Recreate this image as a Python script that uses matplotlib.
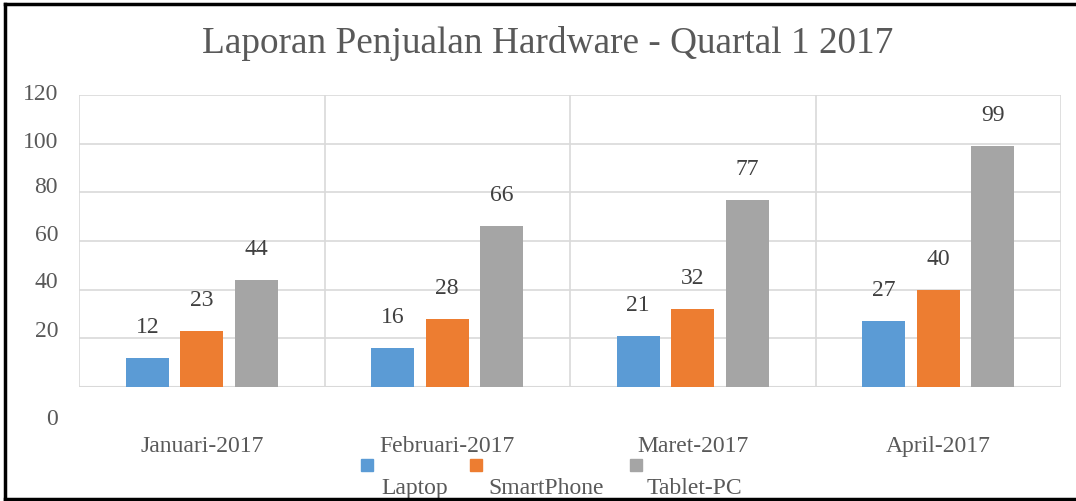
import matplotlib.pyplot as plt
import numpy as np
from matplotlib.lines import Line2D
from matplotlib.patches import Rectangle

# data
months = ["Januari-2017", "Februari-2017", "Maret-2017", "April-2017"]
laptop = [12, 16, 21, 27]
smartphone = [23, 28, 32, 40]
tablet = [44, 66, 77, 99]
series_names = ["Laptop", "SmartPhone", "Tablet-PC"]
colors = ["#5b9bd5", "#ed7d31", "#a5a5a5"]
yticks = [0, 20, 40, 60, 80, 100, 120]
# the y labels in the picture sit a bit off their gridlines (pixels, baseline)
ylabel_shift = [-37, 2.3, 2.7, 1, 0.3, -3.3, -4]

TXT = "#595959"
GRID = "#d9d9d9"
FONT = "Liberation Serif"
plt.rcParams['font.family'] = [FONT, 'DejaVu Serif']
FS = 17

fig = plt.figure(figsize=(10.76, 5.02), dpi=100)
ax = fig.add_axes([79 / 1076, 1 - 388 / 502, 982 / 1076, 292 / 502])

x = np.arange(len(months))
width = 0.175
step = 0.222
for i, vals in enumerate([laptop, smartphone, tablet]):
    pos = x + (i - 1) * step
    ax.bar(pos, vals, width, color=colors[i], zorder=3)
    for p, v in zip(pos, vals):
        ax.annotate(str(v), xy=(p, v), xytext=(0, 26), textcoords="offset pixels",
                    ha="center", va="baseline", fontsize=FS, color="#404040")

ax.set_xlim(-0.5, len(months) - 0.5)
ax.set_ylim(0, 120)
ax.set_yticks(yticks)
ax.set_xticks(np.arange(len(months) + 1) - 0.5)
ax.grid(True, color=GRID, linewidth=1.2, zorder=0)
ax.tick_params(length=0, labelleft=False, labelbottom=False)
for s in ax.spines.values():
    s.set_visible(False)
ax.axhline(0, color=GRID, linewidth=1.5, zorder=2)

# y tick labels
for v, d in zip(yticks, ylabel_shift):
    ax.annotate(str(v), xy=(0, v), xycoords=ax.get_yaxis_transform(),
                xytext=(-21, d), textcoords="offset pixels",
                ha="right", va="baseline", fontsize=FS, color=TXT)

# category labels
for xi, m in zip(x, months):
    ax.annotate(m, xy=(xi, 0), xytext=(0, -64), textcoords="offset pixels",
                ha="center", va="baseline", fontsize=FS, color=TXT)

fig.text(548 / 1076, 1 - 53 / 502, "Laporan Penjualan Hardware - Quartal 1 2017",
         ha="center", va="baseline", fontsize=26.8, color=TXT)

# legend: square above, name below-right
sq_x = [361, 470, 630]
lab_x = [381, 488, 647]
for sx, lx, c, n in zip(sq_x, lab_x, colors, series_names):
    fig.patches.append(Rectangle((sx / 1076, 1 - 472 / 502), 12 / 1076, 12 / 502,
                                 transform=fig.transFigure, color=c))
    fig.text(lx / 1076, 1 - 494 / 502, n, ha="left", va="baseline",
             fontsize=FS, color=TXT)

# dark frame on left, top, bottom
frame_kw = dict(transform=fig.transFigure, color="black", linewidth=2.5, zorder=5)
fig.lines.append(Line2D([5 / 1076, 5 / 1076], [1 - 500 / 502, 1 - 5 / 502], **frame_kw))
fig.lines.append(Line2D([5 / 1076, 1], [1 - 5 / 502, 1 - 5 / 502], **frame_kw))
fig.lines.append(Line2D([5 / 1076, 1], [1 - 500 / 502, 1 - 500 / 502], **frame_kw))

fig.savefig("out.png", dpi=100)
